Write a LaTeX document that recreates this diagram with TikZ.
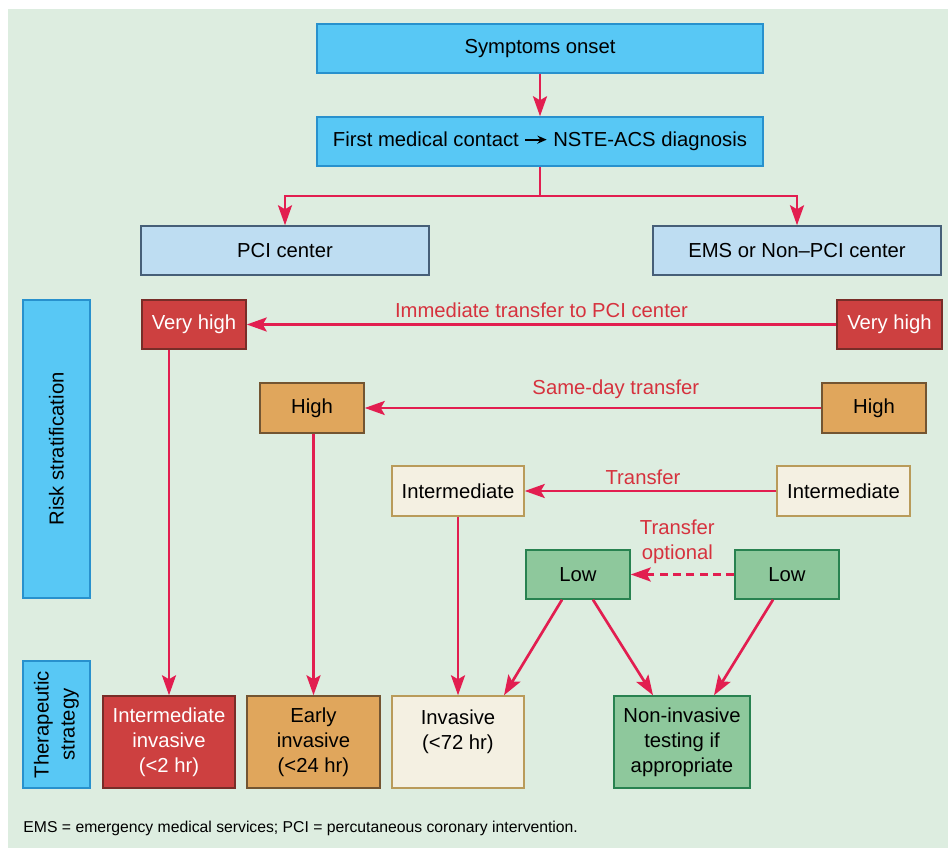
\documentclass[tikz,border=0pt]{standalone}
\usepackage{fontspec}
\setmainfont{Liberation Sans}
\usetikzlibrary{arrows.meta,calc}

\definecolor{bgGreen}{RGB}{221,237,224}
\definecolor{skyFill}{RGB}{88,200,245}
\definecolor{skyLine}{RGB}{40,145,205}
\definecolor{paleFill}{RGB}{190,221,242}
\definecolor{paleLine}{RGB}{70,95,120}
\definecolor{redFill}{RGB}{205,64,64}
\definecolor{redLine}{RGB}{120,45,40}
\definecolor{orgFill}{RGB}{224,166,92}
\definecolor{orgLine}{RGB}{115,85,50}
\definecolor{creFill}{RGB}{244,240,226}
\definecolor{creLine}{RGB}{185,155,90}
\definecolor{grnFill}{RGB}{142,200,156}
\definecolor{grnLine}{RGB}{40,130,80}
\definecolor{flowRed}{RGB}{226,30,80}
\definecolor{lblRed}{RGB}{214,50,62}

\tikzset{every picture/.style={line width=0.75pt}}
\tikzset{
  box/.style={draw, line width=1.1pt, inner sep=2pt, align=center,
    font=\fontsize{15.2}{18.75}\selectfont},
  skybox/.style={box, draw=skyLine, fill=skyFill},
  palebox/.style={box, draw=paleLine, fill=paleFill},
  redbox/.style={box, draw=redLine, fill=redFill, text=white},
  orgbox/.style={box, draw=orgLine, fill=orgFill},
  crebox/.style={box, draw=creLine, fill=creFill},
  grnbox/.style={box, draw=grnLine, fill=grnFill},
  flow/.style={draw=flowRed, line width=2pt, -{Stealth[length=15pt,width=10.5pt,inset=3pt]}},
  flowlbl/.style={text=lblRed, font=\fontsize{15.2}{18.75}\selectfont, align=center, inner sep=1pt}
}

\begin{document}
\begin{tikzpicture}[x=0.75pt,y=0.75pt,yscale=-1,xscale=1]
\useasboundingbox (0,0) rectangle (948,848);
\fill[white] (0,0) rectangle (948,848);
\fill[bgGreen] (8,9) rectangle (948,848);

% Top of the flow
\node[skybox, minimum width=334.5pt, minimum height=36.75pt] (onset) at (540,48.5) {Symptoms onset};
\node[skybox, minimum width=334.5pt, minimum height=36.75pt] (fmc) at (540,141.5) {First medical contact {\raisebox{0.5pt}{\tikz[baseline=-0.6ex]\draw[line width=1.4pt,-{Stealth[length=7pt,width=6pt]}] (0,0) -- (16pt,0);}} NSTE-ACS diagnosis};
\node[palebox, minimum width=216pt, minimum height=36.75pt] (pci) at (285,250.5) {PCI center};
\node[palebox, minimum width=216pt, minimum height=36.75pt] (ems) at (797,250.5) {EMS or Non--PCI center};
\coordinate (split) at (540,196);

% Side labels
\node[skybox, rotate=90, minimum width=223.5pt, minimum height=50.25pt] (risk) at (56.5,449) {Risk stratification};
\node[skybox, rotate=90, minimum width=95.25pt, minimum height=50.25pt, font=\fontsize{15.2}{19.5}\selectfont] (thera) at (56.5,724.5) {Therapeutic\\strategy};

% Risk levels
\node[redbox, minimum width=78pt, minimum height=36.75pt] (vhL) at (194,324.5) {Very high};
\node[redbox, minimum width=78.75pt, minimum height=36.75pt] (vhR) at (889.5,324.5) {Very high};
\node[orgbox, minimum width=78pt, minimum height=37.5pt] (hiL) at (312,408) {High};
\node[orgbox, minimum width=78pt, minimum height=37.5pt] (hiR) at (874,408) {High};
\node[crebox, minimum width=99pt, minimum height=37.5pt] (imL) at (458,491) {Intermediate};
\node[crebox, minimum width=99.75pt, minimum height=37.5pt] (imR) at (843.5,491) {Intermediate};
\node[grnbox, minimum width=78pt, minimum height=36.75pt] (loL) at (578,574.5) {Low};
\node[grnbox, minimum width=78pt, minimum height=36.75pt] (loR) at (787,574.5) {Low};

% Strategies
\node[redbox, minimum width=99pt, minimum height=69pt] (tImm) at (169,742) {Intermediate\\invasive\\(<2 hr)};
\node[orgbox, minimum width=99.75pt, minimum height=69pt] (tEarly) at (313.5,742) {Early\\invasive\\(<24 hr)};
\node[crebox, minimum width=99pt, minimum height=69pt] (tInv) at (458,742) {Invasive\\(<72 hr)\\ ~};
\node[grnbox, minimum width=102pt, minimum height=69pt] (tNon) at (682,742) {Non-invasive\\testing if\\appropriate};

% Connectors
\draw[flow] (onset) -- (fmc);
\draw[draw=flowRed, line width=2pt] (fmc.south) -- (split);
\draw[flow] (split) -| (pci.north);
\draw[flow] (split) -| (ems.north);

\draw[flow] (vhR) -- node[flowlbl, midway, above=3pt] {Immediate transfer to PCI center} (vhL);
\draw[flow] (hiR) -- node[flowlbl, pos=0.45, above=5pt] {Same-day transfer} (hiL);
\draw[flow] (imR) -- node[flowlbl, pos=0.53, above=3pt] {Transfer} (imL);
\draw[flow, dashed, dash pattern=on 6pt off 4pt] (loR) -- node[flowlbl, pos=0.55, above=6pt] {Transfer\\optional} (loL);

\draw[flow] (vhL.south -| tImm.north) -- (tImm.north);
\draw[flow] (hiL.south -| tEarly.north) -- (tEarly.north);
\draw[flow] (imL.south) -- (imL.south |- tInv.north);
\draw[flow] ($(loL.south)+(-16,0)$) -- ($(tInv.north)+(46,0)$);
\draw[flow] ($(loL.south)+(15,0)$) -- ($(tNon.north)+(-29,0)$);
\draw[flow] ($(loR.south)+(-14,0)$) -- ($(tNon.north)+(32,0)$);

% Footnote
\node[anchor=west, inner sep=0pt, font=\fontsize{11.8}{13}\selectfont] (note) at (23,828) {EMS = emergency medical services; PCI = percutaneous coronary intervention.};
\end{tikzpicture}
\end{document}
